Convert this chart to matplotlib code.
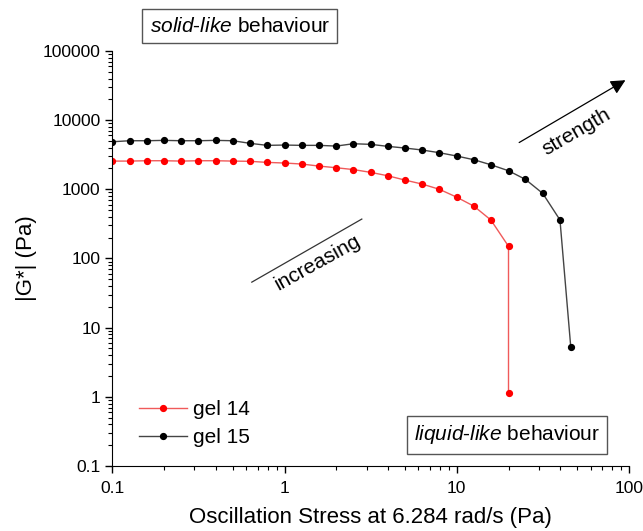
import numpy as np
import matplotlib
matplotlib.use("Agg")
import matplotlib.pyplot as plt
from matplotlib.ticker import LogLocator, FuncFormatter, NullFormatter

plt.rcParams['font.family'] = ['Liberation Sans', 'DejaVu Sans']
plt.rcParams['mathtext.fontset'] = 'custom'
plt.rcParams['mathtext.rm'] = 'Liberation Sans'
plt.rcParams['mathtext.it'] = 'Liberation Sans:italic'

# oscillation stress (Pa)
stress_14 = [0.1, 0.126, 0.158, 0.2, 0.251, 0.316, 0.398, 0.501, 0.631, 0.794,
             1.0, 1.26, 1.58, 2.0, 2.51, 3.16, 3.98, 5.01, 6.31, 7.94,
             10.0, 12.6, 15.8, 20.0, 20.0]
g_14 = [2560, 2560, 2590, 2590, 2560, 2590, 2590, 2560, 2540, 2450,
        2400, 2320, 2170, 2050, 1930, 1760, 1570, 1360, 1190, 1000,
        770, 570, 360, 150, 1.15]

stress_15 = [0.1, 0.126, 0.158, 0.2, 0.251, 0.316, 0.398, 0.501, 0.631, 0.794,
             1.0, 1.26, 1.58, 2.0, 2.51, 3.16, 3.98, 5.01, 6.31, 7.94,
             10.0, 12.6, 15.8, 20.0, 25.1, 31.6, 39.8, 46.0]
g_15 = [4870, 5040, 5040, 5100, 5040, 5040, 5100, 5040, 4620, 4320,
        4365, 4320, 4320, 4220, 4560, 4470, 4180, 3950, 3700, 3380,
        3030, 2675, 2265, 1855, 1390, 874, 361, 5.2]

fig = plt.figure(figsize=(6.43, 5.31), dpi=100)
ax = fig.add_axes([0.1747, 0.1224, 0.8033, 0.7816])

ax.plot(stress_14, g_14, '-', color='#f05a5a', lw=1.0, marker='o', ms=4.2,
        mfc='red', mec='red', label='gel 14')
ax.plot(stress_15, g_15, '-', color='#444444', lw=1.0, marker='o', ms=4.2,
        mfc='black', mec='black', label='gel 15')

ax.set_xscale('log')
ax.set_yscale('log')
ax.set_xlim(0.1, 100)
ax.set_ylim(0.1, 100000)

fmt = FuncFormatter(lambda v, p: '%g' % v)
ax.xaxis.set_major_formatter(fmt)
ax.yaxis.set_major_formatter(fmt)
ax.xaxis.set_minor_locator(LogLocator(base=10, subs=np.arange(2, 10)))
ax.yaxis.set_minor_locator(LogLocator(base=10, subs=np.arange(2, 10)))
ax.xaxis.set_minor_formatter(NullFormatter())
ax.yaxis.set_minor_formatter(NullFormatter())
ax.tick_params(which='major', direction='out', length=5, width=1, labelsize=12.5)
ax.tick_params(axis='x', which='major', pad=6)
ax.tick_params(which='minor', direction='out', length=3, width=0.8)

ax.spines['top'].set_visible(False)
ax.spines['right'].set_visible(False)

ax.set_xlabel('Oscillation Stress at 6.284 rad/s (Pa)', fontsize=16, labelpad=8)
ax.set_ylabel('|G*| (Pa)', fontsize=16, labelpad=4)

ax.legend(loc='lower left', frameon=False, fontsize=15, handlelength=2.3,
          handletextpad=0.3, bbox_to_anchor=(0.035, 0.025), borderaxespad=0,
          labelspacing=0.45)

box = dict(boxstyle='square,pad=0.35', fc='white', ec='#555555', lw=1)
ax.text(0.247, 1.06, r'$\it{solid}$' + '-' + r'$\it{like}$' + ' behaviour',
        transform=ax.transAxes, ha='center', va='center', fontsize=15,
        bbox=box, clip_on=False)
ax.text(0.764, 0.075, r'$\it{liquid}$' + '-' + r'$\it{like}$' + ' behaviour',
        transform=ax.transAxes, ha='center', va='center', fontsize=15,
        bbox=box)

ax.plot([0.270, 0.483], [0.443, 0.595], transform=ax.transAxes,
        color='#333333', lw=0.9)
ax.text(0.398, 0.489, 'increasing', transform=ax.transAxes, ha='center',
        va='center', rotation=29, fontsize=15)

ax.annotate('', xy=(0.998, 0.933), xytext=(0.783, 0.776),
            xycoords='axes fraction', textcoords='axes fraction',
            arrowprops=dict(arrowstyle='-|>', color='black', lw=0.9,
                            mutation_scale=22), annotation_clip=False)
ax.text(0.899, 0.805, 'strength', transform=ax.transAxes, ha='center',
        va='center', rotation=30, fontsize=15)

fig.savefig('out.png', dpi=100)
